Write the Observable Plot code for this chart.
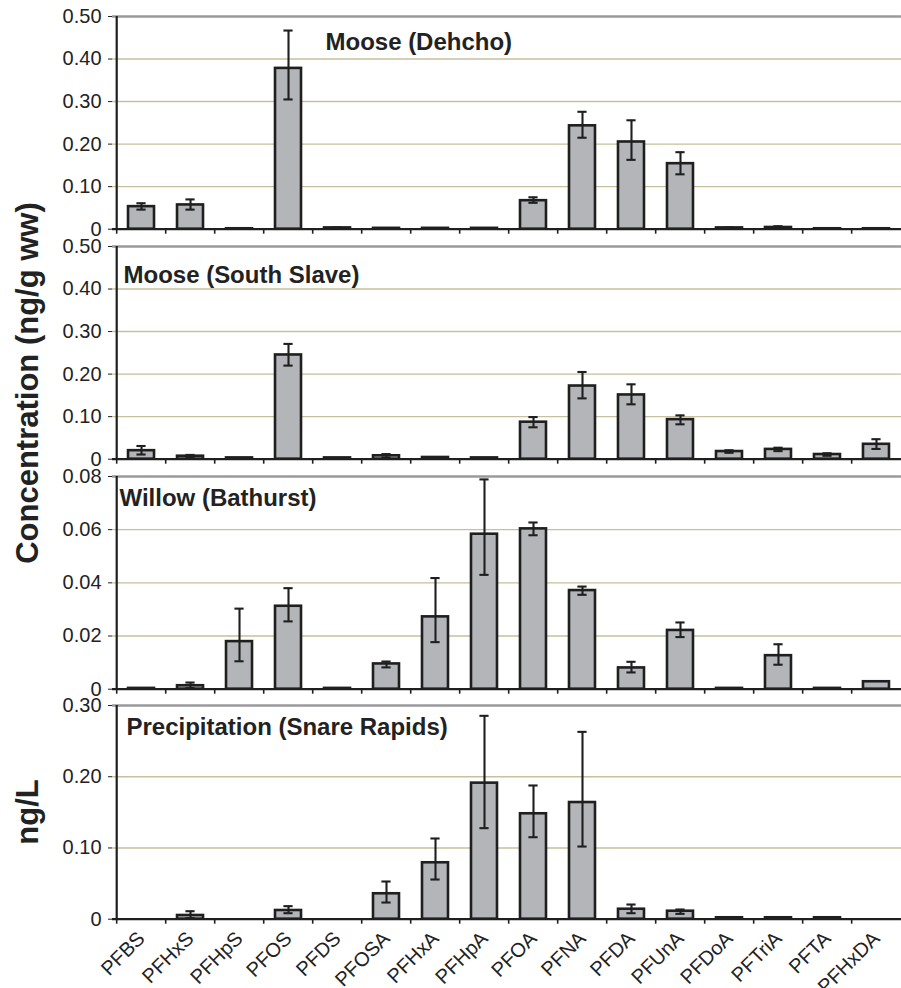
<!DOCTYPE html>
<html><head><meta charset="utf-8">
<script src="https://cdn.jsdelivr.net/npm/d3@7"></script>
<script src="https://cdn.jsdelivr.net/npm/@observablehq/plot@0.6"></script>
<style>
body{margin:0;background:#fff;overflow:hidden;}
#wrap{position:relative;width:901px;height:988px;overflow:hidden;font-family:"Liberation Sans",Arial,sans-serif;}
.panel{position:absolute;left:0;}
.ytitle{position:absolute;font-weight:bold;color:#222;white-space:nowrap;transform:translate(-50%,-50%) rotate(-90deg);font-family:"Liberation Sans",Arial,sans-serif;}
</style></head><body><div id="wrap"></div>
<script>
const compounds = ["PFBS","PFHxS","PFHpS","PFOS","PFDS","PFOSA","PFHxA","PFHpA","PFOA","PFNA","PFDA","PFUnA","PFDoA","PFTriA","PFTA","PFHxDA"];

const dehchoMean = [0.053,0.057,0.001,0.378,0.003,0.002,0.002,0.002,0.067,0.243,0.205,0.154,0.003,0.004,0.001,0.001];
const dehchoLo   = [0.046,0.046,0.001,0.305,0.003,0.002,0.002,0.002,0.062,0.215,0.163,0.129,0.002,0.002,0.001,0.001];
const dehchoHi   = [0.061,0.070,0.001,0.467,0.004,0.002,0.002,0.002,0.075,0.276,0.256,0.181,0.004,0.007,0.001,0.001];

const slaveMean = [0.020,0.007,0.003,0.245,0.003,0.008,0.004,0.003,0.087,0.172,0.151,0.093,0.018,0.023,0.011,0.035];
const slaveLo   = [0.011,0.004,0.003,0.220,0.003,0.004,0.004,0.003,0.075,0.143,0.129,0.082,0.015,0.019,0.008,0.024];
const slaveHi   = [0.031,0.010,0.003,0.271,0.003,0.012,0.004,0.003,0.099,0.205,0.176,0.103,0.021,0.027,0.014,0.047];

const willowMean = [0.0003,0.0013,0.0179,0.0312,0.0003,0.0095,0.0272,0.0583,0.0603,0.0371,0.0080,0.0221,0.0003,0.0126,0.0003,0.0028];
const willowLo   = [0.0003,0.0004,0.0105,0.0255,0.0003,0.0082,0.0177,0.0430,0.0579,0.0355,0.0063,0.0196,0.0003,0.0092,0.0003,0.0028];
const willowHi   = [0.0003,0.0025,0.0303,0.0380,0.0003,0.0104,0.0418,0.0789,0.0627,0.0386,0.0103,0.0251,0.0003,0.0169,0.0003,0.0028];

const precipMean = [0,0.0052,0,0.0122,0,0.0357,0.0792,0.191,0.148,0.1638,0.014,0.0112,0.002,0.002,0.002,0];
const precipLo   = [0,0.0014,0,0.0084,0,0.0234,0.0557,0.1278,0.1151,0.102,0.0084,0.0075,0.002,0.002,0.002,0];
const precipHi   = [0,0.0112,0,0.0183,0,0.0529,0.1133,0.2855,0.1877,0.263,0.0206,0.0136,0.002,0.002,0.002,0];

const ticksMoose = [0,0.1,0.2,0.3,0.4,0.5];
const ticksWillow = [0,0.02,0.04,0.06,0.08];
const ticksPrecip = [0,0.1,0.2,0.3];

const panels = [
  {title:"Moose (Dehcho)", tx:325, ty:50, mean:dehchoMean, lo:dehchoLo, hi:dehchoHi, ticks:ticksMoose, top:16, h:212.7, mb:12, labels:false},
  {title:"Moose (South Slave)", tx:123, ty:283, mean:slaveMean, lo:slaveLo, hi:slaveHi, ticks:ticksMoose, top:246, h:212.7, mb:12, labels:false},
  {title:"Willow (Bathurst)", tx:119, ty:506, mean:willowMean, lo:willowLo, hi:willowHi, ticks:ticksWillow, top:476, h:212.7, mb:12, labels:false},
  {title:"Precipitation (Snare Rapids)", tx:126, ty:735, mean:precipMean, lo:precipLo, hi:precipHi, ticks:ticksPrecip, top:705, h:213.7, mb:70, labels:true}
];

const X0 = 112, X1 = 906;
const step = (X1 - X0) / compounds.length;
const barW = step * 0.54;
const capW = 10;
const dark = "#1f1f1f";
const wrap = document.getElementById("wrap");

for (const p of panels) {
  const ymax = p.ticks[p.ticks.length - 1];
  const data = compounds.map((c, i) => ({c, v: p.mean[i], lo: p.lo[i], hi: p.hi[i]}));
  const bars = data.filter(d => d.v > 0);
  const errs = data.filter(d => d.hi > d.lo);
  const fmt = d => d === 0 ? "0" : d.toFixed(2);
  const marks = [
    Plot.ruleY(p.ticks.slice(1, -1), {stroke: "#c7bf9d", strokeWidth: 1.4}),
    Plot.ruleY([ymax], {stroke: "#9a9a9c", strokeWidth: 2.4}),
    Plot.barY(bars, {x: "c", y: "v", fill: "#b4b5b8", stroke: dark, strokeWidth: 2.6}),
    Plot.ruleX(errs, {x: "c", y1: "lo", y2: "hi", stroke: dark, strokeWidth: 2.1}),
    Plot.tickY(errs, {x: "c", y: "lo", stroke: dark, strokeWidth: 2.1, insetLeft: (barW - capW) / 2, insetRight: (barW - capW) / 2}),
    Plot.tickY(errs, {x: "c", y: "hi", stroke: dark, strokeWidth: 2.1, insetLeft: (barW - capW) / 2, insetRight: (barW - capW) / 2}),
    Plot.ruleY([0], {stroke: dark, strokeWidth: 2.2}),
    Plot.ruleX(compounds, {x: d => d, dx: -step / 2, y1: 0, y2: 0, insetBottom: -5, stroke: dark, strokeWidth: 1.6}),
    Plot.ruleX([compounds[0]], {x: d => d, dx: -step / 2, y1: 0, y2: ymax, stroke: dark, strokeWidth: 2.2}),
    Plot.axisY({ticks: p.ticks, tickFormat: fmt, tickSize: 4, tickPadding: 7, fontSize: 20, stroke: dark, fill: "#222"}),
    Plot.text([p.title], {frameAnchor: "top-left", dx: p.tx - X0, dy: p.ty - p.top, textAnchor: "start", lineAnchor: "bottom", fontSize: 24, fontWeight: "bold", fill: "#222"})
  ];
  if (p.labels) {
    marks.push(Plot.text(compounds, {x: d => d, y: 0, rotate: -45, textAnchor: "end", lineAnchor: "middle", dx: 0, dy: 16, fontSize: 20, fill: "#222"}));
  }
  const chart = Plot.plot({
    width: 901,
    height: 16 + p.h + p.mb,
    marginTop: 16,
    marginBottom: p.mb,
    marginLeft: X0,
    marginRight: 0,
    style: {background: "transparent", fontFamily: "'Liberation Sans', Arial, sans-serif", overflow: "visible"},
    x: {type: "band", domain: compounds, range: [X0, X1], paddingInner: 0.46, paddingOuter: 0.23, axis: null},
    y: {domain: [0, ymax], axis: null},
    marks
  });
  const div = document.createElement("div");
  div.className = "panel";
  div.style.top = (p.top - 16) + "px";
  div.appendChild(chart);
  wrap.appendChild(div);
}

function ytitle(text, cx, cy, size) {
  const d = document.createElement("div");
  d.className = "ytitle";
  d.textContent = text;
  d.style.left = cx + "px";
  d.style.top = cy + "px";
  d.style.fontSize = size + "px";
  wrap.appendChild(d);
}
ytitle("Concentration (ng/g ww)", 28, 383, 31);
ytitle("ng/L", 28, 812, 31);
</script></body></html>
